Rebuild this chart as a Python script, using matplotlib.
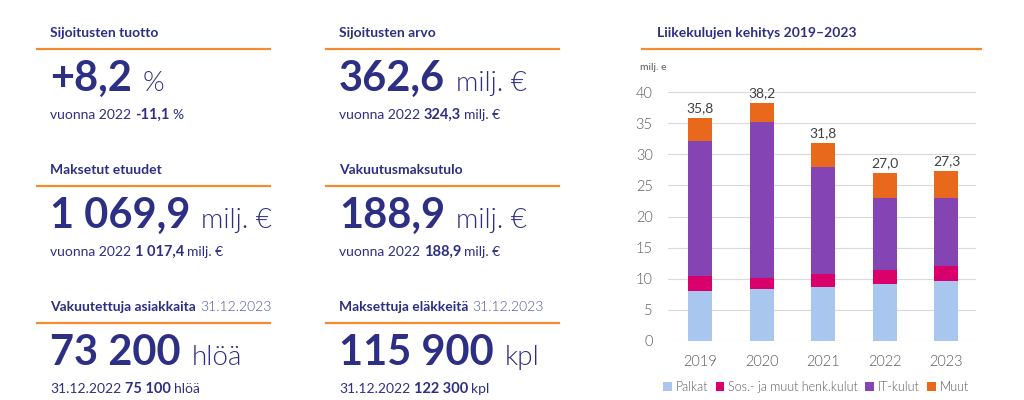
import matplotlib
matplotlib.use('Agg')
import matplotlib.pyplot as plt
import numpy as np

plt.rcParams['font.family'] = ['Lato', 'DejaVu Sans']

W, H = 1024, 400
NAVY = '#2d2f85'
ORANGE = '#f58a2e'
GRAY = '#595959'

# chart data
vuodet = ['2019', '2020', '2021', '2022', '2023']
palkat = [8.1, 8.3, 8.6, 9.1, 9.6]
sos_kulut = [2.3, 1.8, 2.1, 2.3, 2.4]
it_kulut = [21.7, 25.1, 17.2, 11.5, 10.9]
muut = [3.7, 3.0, 3.9, 4.1, 4.4]
summat = ['35,8', '38,2', '31,8', '27,0', '27,3']
sarjat = ['Palkat', 'Sos.- ja muut henk.kulut', 'IT-kulut', 'Muut']
varit = ['#a9c6ee', '#d9006c', '#8444b3', '#e8691b']

# key figures: (x, y, title, title extra, big number, unit, sub parts)
tunnusluvut = [
    (50, 33, 'Sijoitusten tuotto', '', '+8,2', '%', [('vuonna 2022', 'normal'), ('-11,1', 'bold'), ('%', 'normal')]),
    (339, 33, 'Sijoitusten arvo', '', '362,6', 'milj. €', [('vuonna 2022', 'normal'), ('324,3', 'bold'), ('milj. €', 'normal')]),
    (50, 170, 'Maksetut etuudet', '', '1 069,9', 'milj. €', [('vuonna 2022', 'normal'), ('1 017,4', 'bold'), ('milj. €', 'normal')]),
    (339, 170, 'Vakuutusmaksutulo', '', '188,9', 'milj. €', [('vuonna 2022', 'normal'), ('188,9', 'bold'), ('milj. €', 'normal')]),
    (50, 307, 'Vakuutettuja asiakkaita', '31.12.2023', '73 200', 'hlöä', [('31.12.2022', 'normal'), ('75 100', 'bold'), ('hlöä', 'normal')]),
    (339, 307, 'Maksettuja eläkkeitä', '31.12.2023', '115 900', 'kpl', [('31.12.2022', 'normal'), ('122 300', 'bold'), ('kpl', 'normal')]),
]

fig = plt.figure(figsize=(W / 100, H / 100), dpi=100)
fig.canvas.draw()
renderer = fig.canvas.get_renderer()


def fx(x):
    return x / W


def fy(y):
    return 1 - y / H


def runs(x, y, parts, gap, va='baseline'):
    for txt, w, c, s in parts:
        t = fig.text(fx(x), fy(y), txt, fontsize=s, fontweight=w, color=c, va=va, ha='left')
        bb = t.get_window_extent(renderer)
        x = bb.x1 + gap


def hline(x0, x1, y):
    fig.add_artist(plt.Line2D([fx(x0), fx(x1)], [fy(y), fy(y)], color=ORANGE, lw=1.6,
                              transform=fig.transFigure))


for x, y, otsikko, lisa, luku, yksikko, ala in tunnusluvut:
    osat = [(otsikko, 'bold', NAVY, 10)]
    if lisa:
        osat.append((lisa, 300, '#4b4f9c', 10))
    runs(x, y, osat, 4, va='center')
    hline(x - 13, x + 220, y + 16)
    runs(x, y + 58, [(luku, 'bold', NAVY, 30), (yksikko, 300, NAVY, 20)], 11)
    runs(x, y + 86, [(t, w, NAVY, 10.5 if w == 'bold' else 10) for t, w in ala], 3.5)

# chart
fig.text(fx(657), fy(33), 'Liikekulujen kehitys 2019\u20132023', fontsize=10, fontweight='bold',
         color=NAVY, va='center')
hline(642, 981, 49)
fig.text(fx(640), fy(68), 'milj. e', fontsize=7.5, color=GRAY, va='center')

ax = fig.add_axes([fx(668), fy(341), (976 - 668) / W, (341 - 92) / H])
xs = np.arange(len(vuodet))
pohja = np.zeros(len(vuodet))
for nimi, arvot, vari in zip(sarjat, [palkat, sos_kulut, it_kulut, muut], varit):
    ax.bar(xs, arvot, 0.39, bottom=pohja, color=vari, label=nimi, zorder=3)
    pohja = pohja + np.array(arvot)
for xi, top, s in zip(xs, pohja, summat):
    ax.text(xi, top + 0.6, s, ha='center', va='bottom', fontsize=10, color='#404040')

ax.set_ylim(0, 40)
ax.set_xlim(-0.52, 4.48)
ax.set_yticks(range(0, 41, 5))
ax.set_xticks(xs)
ax.set_xticklabels(vuodet)
ax.grid(axis='y', color='#d9d9d9', lw=0.8, zorder=0)
for sp in ax.spines.values():
    sp.set_visible(False)
ax.tick_params(length=0, labelsize=10.5, colors=GRAY)
ax.tick_params(axis='y', pad=11)
ax.tick_params(axis='x', pad=10)
for lab in ax.get_xticklabels() + ax.get_yticklabels():
    lab.set_fontweight(300)

leg = ax.legend(loc='center', bbox_to_anchor=(fx(816), fy(387)), bbox_transform=fig.transFigure,
                ncol=4, frameon=False, fontsize=9, handlelength=0.7, handleheight=0.7,
                handletextpad=0.3, columnspacing=0.6, labelcolor=GRAY)
for t in leg.get_texts():
    t.set_fontweight(300)

fig.savefig('out.png', dpi=100)
